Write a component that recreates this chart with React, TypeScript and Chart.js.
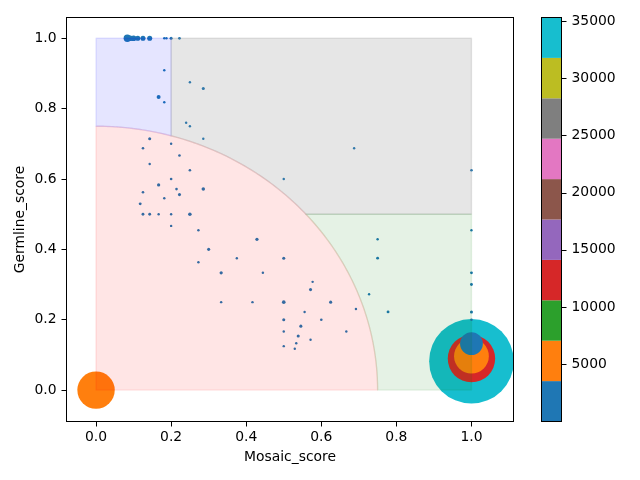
import { useEffect, useRef } from "react";
import { Chart, registerables } from "chart.js";

Chart.register(...registerables);

// ---- data ----
const mosaicScores = [
  1, 0, 1, 1, 1,
  0.0833, 0.0909, 0.1, 0.1111, 0.125, 0.1429, 0.1818, 0.1875, 0.2, 0.2222,
  0.1818, 0.25, 0.2857, 0.1667, 0.1818, 0.24, 0.25, 0.1429, 0.2857, 0.2,
  0.125, 0.2222, 0.1429, 0.25, 0.5, 0.2, 0.1667, 0.2143, 0.2857, 0.125,
  0.2222, 0.1818, 0.1176, 0.125, 0.1429, 0.1667, 0.2, 0.25, 0.2, 0.2727,
  0.4286, 0.3, 0.375, 0.5, 0.2727, 0.3333, 0.4444, 0.5714, 0.5769, 0.3333,
  0.4167, 0.5, 0.5556, 0.5, 0.5455, 0.5, 0.5385, 0.5333, 0.5, 0.5294,
  0.5714, 0.6875, 1, 1, 0.75, 0.75, 1, 1, 0.625, 0.7273,
  0.6923, 0.7778, 0.6, 0.6667, 1, 1,
];
const germlineScores = [
  0.082, 0, 0.0895, 0.0966, 0.132,
  1, 1, 1, 1, 1, 1, 1, 1, 1, 1,
  0.9091, 0.875, 0.8571, 0.8333, 0.8182, 0.76, 0.75, 0.7143, 0.7143, 0.7,
  0.6875, 0.6667, 0.6429, 0.625, 0.6, 0.6, 0.5833, 0.5714, 0.5714, 0.5625,
  0.5556, 0.5455, 0.5294, 0.5, 0.5, 0.5, 0.5, 0.5, 0.4667, 0.4545,
  0.4286, 0.4, 0.375, 0.375, 0.3636, 0.3333, 0.3333, 0.2857, 0.3077, 0.25,
  0.25, 0.25, 0.2222, 0.2, 0.1818, 0.1667, 0.1538, 0.1333, 0.125, 0.1176,
  0.1429, 0.6875, 0.625, 0.4545, 0.4286, 0.375, 0.3333, 0.3, 0.25, 0.2727,
  0.2308, 0.2222, 0.2, 0.1667, 0.2222, 0.2,
];
const readCounts = [
  35300, 6485, 10670, 5570, 2240,
  150, 70, 70, 50, 50, 50, 1, 1, 6, 3,
  1, 1, 6, 20, 1, 1, 1, 6, 1, 1,
  2, 2, 1, 2, 1, 2, 8, 2, 12, 2,
  6, 1, 4, 4, 4, 1, 1, 12, 1, 1,
  8, 6, 1, 6, 1, 8, 1, 6, 1, 1,
  1, 14, 1, 6, 6, 1, 6, 1, 1, 1,
  1, 1, 2, 1, 1, 4, 4, 4, 6, 1,
  1, 4, 2, 1, 6, 2,
];

const axisTickValues = [0, 0.2, 0.4, 0.6, 0.8, 1.0];
const colorbarTickValues = [5000, 10000, 15000, 20000, 25000, 30000, 35000];
const colorMin = 1;
const colorMax = 35300;
const tab10 = [
  "#1f77b4", "#ff7f0e", "#2ca02c", "#d62728", "#9467bd",
  "#8c564b", "#e377c2", "#7f7f7f", "#bcbd22", "#17becf",
];

// shaded regions (data units)
const circleRadius = 0.75;
const blueColumnRight = 0.2;
const upperBandBottom = 0.5;
const scoreMax = 1;

const FONT = "'DejaVu Sans', sans-serif";
const FS = 13.9;

function colorFor(c: number) {
  let i = Math.floor(((c - colorMin) / (colorMax - colorMin)) * tab10.length);
  if (i < 0) i = 0;
  if (i > tab10.length - 1) i = tab10.length - 1;
  return tab10[i];
}

function arcPoints(a0: number, a1: number) {
  const pts: [number, number][] = [];
  const n = 60;
  for (let i = 0; i <= n; i++) {
    const a = a0 + ((a1 - a0) * i) / n;
    pts.push([circleRadius * Math.cos(a), circleRadius * Math.sin(a)]);
  }
  return pts;
}

const regionsPlugin = {
  id: "regions",
  afterDatasetsDraw(chart: any) {
    const { ctx } = chart;
    const xs = chart.scales.x;
    const ys = chart.scales.y;
    const R = circleRadius;
    const angX02 = Math.acos(blueColumnRight / R); // angle where arc meets x=0.2
    const angY05 = Math.asin(upperBandBottom / R); // angle where arc meets y=0.5

    const poly = (pts: [number, number][], color: string) => {
      ctx.save();
      ctx.beginPath();
      pts.forEach(([x, y], i) => {
        const px = xs.getPixelForValue(x);
        const py = ys.getPixelForValue(y);
        if (i === 0) ctx.moveTo(px, py);
        else ctx.lineTo(px, py);
      });
      ctx.closePath();
      ctx.fillStyle = color;
      ctx.strokeStyle = color;
      ctx.lineWidth = 1.4;
      ctx.lineJoin = "round";
      ctx.fill();
      ctx.stroke();
      ctx.restore();
    };

    // pink quarter disc
    poly([[0, 0], ...arcPoints(0, Math.PI / 2)], "rgba(255,0,0,0.1)");
    // blue column above the arc
    poly(
      [[0, scoreMax], [blueColumnRight, scoreMax], ...arcPoints(angX02, Math.PI / 2)],
      "rgba(0,0,255,0.1)"
    );
    // gray band above the arc
    poly(
      [
        [blueColumnRight, scoreMax],
        [scoreMax, scoreMax],
        [scoreMax, upperBandBottom],
        ...arcPoints(angY05, angX02),
      ],
      "rgba(128,128,128,0.2)"
    );
    // green band outside the arc
    poly(
      [[scoreMax, 0], [scoreMax, upperBandBottom], ...arcPoints(angY05, 0)],
      "rgba(0,128,0,0.1)"
    );
  },
  afterDraw(chart: any) {
    const { ctx, chartArea } = chart;
    ctx.save();
    ctx.strokeStyle = "#000";
    ctx.lineWidth = 1;
    ctx.strokeRect(
      chartArea.left,
      chartArea.top,
      chartArea.right - chartArea.left,
      chartArea.bottom - chartArea.top
    );
    const cb = chart.scales.cb;
    const bl = cb.left + 28;
    const br = bl + 20;
    const n = tab10.length;
    for (let i = 0; i < n; i++) {
      const v0 = colorMin + ((colorMax - colorMin) * i) / n;
      const v1 = colorMin + ((colorMax - colorMin) * (i + 1)) / n;
      const p0 = cb.getPixelForValue(v0);
      const p1 = cb.getPixelForValue(v1);
      ctx.fillStyle = tab10[i];
      ctx.fillRect(bl, p1, br - bl, p0 - p1);
    }
    ctx.strokeStyle = "#000";
    ctx.lineWidth = 1;
    ctx.strokeRect(bl, cb.top, br - bl, cb.bottom - cb.top);
    ctx.beginPath();
    colorbarTickValues.forEach((v) => {
      const p = Math.round(cb.getPixelForValue(v)) + 0.5;
      ctx.moveTo(br, p);
      ctx.lineTo(br + 5, p);
    });
    ctx.stroke();
    ctx.restore();
  },
};

function zeroPad(s: any) {
  s.paddingTop = 0;
  s.paddingBottom = 0;
  s.paddingLeft = 0;
  s.paddingRight = 0;
}

export default function App() {
  const ref = useRef<HTMLCanvasElement | null>(null);
  useEffect(() => {
    if (!ref.current) return;
    const points = mosaicScores.map((x, i) => ({ x, y: germlineScores[i] }));
    const setTicks = (vals: number[]) => (scale: any) => {
      scale.ticks = vals.map((v) => ({ value: v }));
    };
    const chart = new Chart(ref.current, {
      type: "scatter",
      data: {
        datasets: [
          {
            data: points,
            pointRadius: (c: any) => 0.2198 * Math.sqrt(readCounts[c.dataIndex]) + 1,
            backgroundColor: (c: any) => colorFor(readCounts[c.dataIndex]),
            borderWidth: 0,
            pointBorderWidth: 0,
          } as any,
        ],
      },
      options: {
        animation: false,
        responsive: false,
        events: [],
        layout: { autoPadding: false, padding: { top: 17.5, left: 0, right: 0, bottom: 0 } },
        plugins: { legend: { display: false }, tooltip: { enabled: false } },
        scales: {
          x: {
            type: "linear",
            position: "bottom",
            min: -0.0787,
            max: 1.112,
            afterBuildTicks: setTicks(axisTickValues),
            afterFit: (s: any) => {
              s.height = 58.5;
              zeroPad(s);
            },
            grid: { drawOnChartArea: false, drawTicks: true, tickLength: 5, color: "#000" },
            border: { display: false },
            ticks: {
              padding: 3,
              color: "#000",
              font: { family: FONT, size: FS },
              maxRotation: 0,
              callback: (v: any) => Number(v).toFixed(1),
            },
            title: {
              display: true,
              text: "Mosaic_score",
              color: "#000",
              font: { family: FONT, size: FS },
              padding: { top: 0, bottom: 14.2 },
            },
          },
          y: {
            type: "linear",
            position: "left",
            min: -0.0892,
            max: 1.059,
            afterBuildTicks: setTicks(axisTickValues),
            afterFit: (s: any) => {
              s.width = 66.5;
              zeroPad(s);
            },
            grid: { drawOnChartArea: false, drawTicks: true, tickLength: 5, color: "#000" },
            border: { display: false },
            ticks: {
              padding: 5,
              color: "#000",
              font: { family: FONT, size: FS },
              callback: (v: any) => Number(v).toFixed(1),
            },
            title: {
              display: true,
              text: "Germline_score",
              color: "#000",
              font: { family: FONT, size: FS },
              padding: { top: 12.5, bottom: 0 },
            },
          },
          cb: {
            type: "linear",
            position: "right",
            min: colorMin,
            max: colorMax,
            afterBuildTicks: setTicks(colorbarTickValues),
            afterFit: (s: any) => {
              s.width = 126.5;
              zeroPad(s);
            },
            grid: { display: false, drawTicks: false, drawOnChartArea: false },
            border: { display: false },
            ticks: {
              padding: 58,
              color: "#000",
              font: { family: FONT, size: FS },
              callback: (v: any) => String(v),
            },
          },
        } as any,
      },
      plugins: [regionsPlugin],
    });
    return () => chart.destroy();
  }, []);

  return (
    <div style={{ position: "fixed", left: 0, top: 0, width: 640, height: 480, background: "#fff" }}>
      <canvas ref={ref} width={640} height={480} style={{ width: 640, height: 480, display: "block" }} />
    </div>
  );
}
